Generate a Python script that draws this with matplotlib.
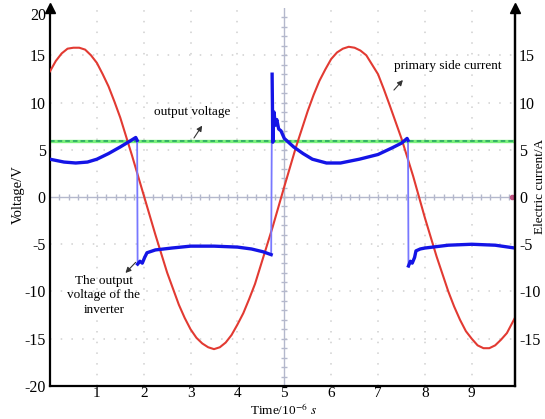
import numpy as np
import matplotlib
matplotlib.use("Agg")
import matplotlib.pyplot as plt

# primary side current (red)
t_current = [0, 0.125, 0.25, 0.375, 0.5, 0.625, 0.75, 0.875, 1.0, 1.125, 1.25, 1.375, 1.5,
             1.75, 2.0, 2.25, 2.5, 2.75, 2.875, 3.0, 3.125, 3.25, 3.375, 3.5, 3.625, 3.75,
             3.875, 4.0, 4.125, 4.25, 4.375, 4.5, 4.75, 5.0, 5.25, 5.5, 5.625, 5.75, 5.875,
             6.0, 6.125, 6.25, 6.375, 6.5, 6.625, 6.75, 6.875, 7.0, 7.125, 7.25, 7.5, 7.75,
             8.0, 8.25, 8.5, 8.625, 8.75, 8.875, 9.0, 9.125, 9.25, 9.375, 9.5, 9.625, 9.75, 9.92]
current = [13.3, 14.4, 15.2, 15.7, 15.8, 15.8, 15.6, 15.0, 14.2, 13.0, 11.7, 10.1, 8.4,
           4.4, 0.2, -4.0, -8.0, -11.4, -12.8, -14.0, -14.9, -15.5, -15.9, -16.1, -15.9, -15.4,
           -14.6, -13.5, -12.3, -10.8, -9.2, -7.2, -3.2, 1.1, 5.3, 9.1, 10.8, 12.3, 13.5,
           14.6, 15.3, 15.7, 15.9, 15.8, 15.5, 15.0, 14.0, 13.0, 11.4, 9.7, 6.2, 2.2,
           -2.2, -6.3, -10.0, -11.6, -13.0, -14.2, -15.0, -15.7, -16.0, -16.0, -15.7, -15.1, -14.4, -12.8]

# inverter output voltage (blue), one list per plateau
t_inv1 = [0, 0.3, 0.55, 0.8, 1.0, 1.25, 1.5, 1.7, 1.83, 1.86]
v_inv1 = [4.0, 3.7, 3.6, 3.7, 4.0, 4.6, 5.3, 5.9, 6.3, 6.0]
t_inv2 = [1.87, 1.92, 1.97, 2.02, 2.07, 2.25, 2.6, 3.0, 3.5, 4.0, 4.3, 4.55, 4.72]
v_inv2 = [-7.1, -6.8, -7.0, -6.4, -5.9, -5.6, -5.4, -5.2, -5.2, -5.3, -5.5, -5.8, -6.1]
t_inv3 = [4.74, 4.755, 4.78, 4.81, 4.84, 4.88, 4.93, 5.0, 5.2, 5.4, 5.6, 5.9, 6.2, 6.6,
          7.0, 7.3, 7.5, 7.62, 7.64]
v_inv3 = [13.0, 5.8, 9.0, 7.6, 8.2, 7.2, 7.0, 6.2, 5.3, 4.6, 4.0, 3.6, 3.6, 4.0,
          4.5, 5.2, 5.7, 6.2, 6.0]
t_inv4 = [7.65, 7.69, 7.73, 7.78, 7.81, 7.9, 8.0, 8.5, 9.0, 9.5, 9.92]
v_inv4 = [-7.3, -6.8, -7.0, -6.4, -5.7, -5.5, -5.4, -5.1, -5.0, -5.1, -5.4]

output_voltage = 5.9

x_ticks = [1, 2, 3, 4, 5, 6, 7, 8, 9]
left_ticks = [-20, -15, -10, -5, 0, 5, 10, 15, 20]
right_ticks = [-15, -10, -5, 0, 5, 10, 15]

plt.rcParams['font.family'] = ['Liberation Serif', 'DejaVu Serif']
plt.rcParams['mathtext.fontset'] = 'stix'
plt.rcParams['axes.unicode_minus'] = False

fig = plt.figure(figsize=(5.45, 4.19), dpi=100)
ax = fig.add_axes([0.0917, 0.0788, 0.853, 0.902])
ax.set_xlim(0, 9.92)
ax.set_ylim(-20, 20)

# oscilloscope grid
for x in x_ticks:
    if x != 5:
        ax.axvline(x, color='#cfcfcf', lw=1.1, ls=(0, (1, 6)), zorder=0)
for y in left_ticks[1:-1]:
    if y != 0:
        ax.axhline(y, color='#cfcfcf', lw=1.1, ls=(0, (1, 6)), zorder=0)
ax.axhline(0, color='#b4b8cc', lw=1.0, zorder=0)
ax.axvline(5, color='#b4b8cc', lw=1.0, zorder=0)
ax.plot(np.arange(0.2, 9.9, 0.2), np.zeros(len(np.arange(0.2, 9.9, 0.2))), '|',
        color='#b4b8cc', ms=5, zorder=0)
ax.plot(np.full(39, 5.0), np.arange(-19, 20, 1), '_', color='#b4b8cc', ms=5, zorder=0)
ax.plot([9.85], [0], 'o', color='#c05080', ms=3, zorder=1)

# output voltage
ax.axhline(output_voltage, color='#7cf07c', lw=2.4, zorder=2)
ax.axhline(output_voltage, color='#20a060', lw=1.1, ls=(0, (3, 2)), zorder=2)

# primary side current
ax.plot(t_current, current, color='#e23a32', lw=1.5, zorder=3)

# inverter voltage: thin edges, thick plateaus
segs = [(t_inv1, v_inv1), (t_inv2, v_inv2), (t_inv3, v_inv3), (t_inv4, v_inv4)]
for (ta, va), (tb, vb) in zip(segs[:-1], segs[1:]):
    ax.plot([ta[-1], tb[0]], [va[-1], vb[0]], color='#7878ff', lw=1.3, zorder=4)
for ts, vs in segs:
    ax.plot(ts, vs, color='#1414e6', lw=2.4, zorder=5)

ax.set_xticks(x_ticks)
ax.set_yticks(left_ticks)
ax.tick_params(length=0, labelsize=11.5, pad=3)
ax.tick_params(axis='x', labelsize=11, pad=1)
ax.spines['top'].set_visible(False)
for s in ['left', 'bottom', 'right']:
    ax.spines[s].set_linewidth(1.6)
ax.plot([0], [1], '^', color='black', ms=7, transform=ax.transAxes, clip_on=False)
ax.plot([1], [1], '^', color='black', ms=7, transform=ax.transAxes, clip_on=False)

ax2 = ax.twinx()
ax2.set_ylim(-20, 20)
ax2.set_yticks(right_ticks)
ax2.tick_params(length=0, labelsize=11.5, pad=3)
for s in ['top', 'left', 'bottom']:
    ax2.spines[s].set_visible(False)
ax2.spines['right'].set_linewidth(1.6)

fig.text(283 / 545, 1 - 418 / 419, 'Time/10$^{-6}$ $s$', fontsize=9.5,
         ha='center', va='bottom')
fig.text(18 / 545, 0.535, 'Voltage/V', fontsize=10.5, rotation=90,
         ha='center', va='center')
fig.text(0.979, 0.555, 'Electric current/A', rotation=90, fontsize=9.5,
         ha='left', va='center')

arrow = dict(arrowstyle='-|>', color='#333333', lw=0.8, mutation_scale=8)
ax.text(3.04, 9.0, 'output voltage', fontsize=9.5, ha='center', va='center')
ax.annotate('', xy=(3.28, 7.8), xytext=(3.04, 6.0), arrowprops=arrow)
ax.text(8.49, 13.9, 'primary side current', fontsize=9.5, ha='center', va='center')
ax.annotate('', xy=(7.57, 12.6), xytext=(7.30, 11.1), arrowprops=arrow)
ax.text(1.15, -10.4, 'The output\nvoltage of the\ninverter', fontsize=9.5,
        ha='center', va='center', linespacing=1.3)
ax.annotate('', xy=(1.57, -8.25), xytext=(1.87, -6.7), arrowprops=arrow)

fig.canvas.draw()
ax.get_yticklabels()[-1].set_va('top')

fig.savefig('out.png', dpi=100)
